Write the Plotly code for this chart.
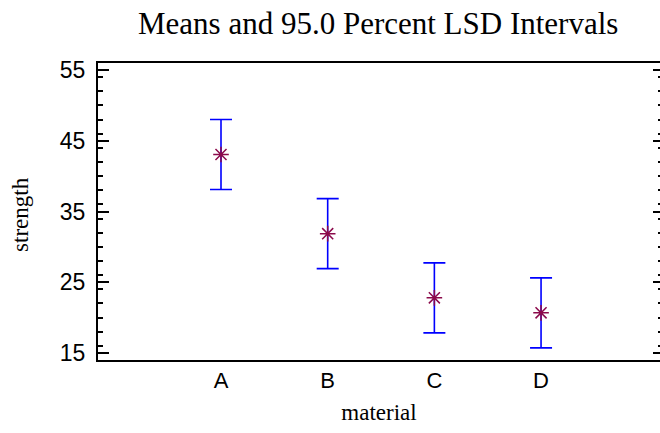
import plotly.graph_objects as go

materials = ["A", "B", "C", "D"]
means = [43.06, 31.87, 22.79, 20.67]
lsd_half = [4.95, 4.95, 4.95, 4.95]

fig = go.Figure()
fig.add_trace(go.Scatter(
    x=materials, y=means, mode="markers",
    marker=dict(symbol="asterisk-open", size=13, color="#8B0A4B",
                line=dict(color="#8B0A4B", width=1.5)),
    error_y=dict(type="data", array=lsd_half, visible=True,
                 color="#0000FF", thickness=1.6, width=11),
    showlegend=False, hoverinfo="skip",
))
# invisible trace for right-side ticks
fig.add_trace(go.Scatter(x=materials, y=means, yaxis="y2", mode="markers",
                         marker=dict(opacity=0), showlegend=False, hoverinfo="skip"))

serif = "Liberation Serif, Times New Roman, serif"
sans = "Liberation Sans, Arial, sans-serif"

fig.update_layout(
    width=660, height=433,
    margin=dict(l=98, r=0, t=63, b=73),
    paper_bgcolor="white", plot_bgcolor="white",
    title=dict(text="Means and 95.0 Percent LSD Intervals",
               x=0.573, xanchor="center", y=0.947, yanchor="middle",
               font=dict(family=serif, size=31, color="black")),
    xaxis=dict(
        type="category", range=[-1.153, 4.115],
        showline=True, linewidth=2, linecolor="black", mirror=True,
        ticks="", showgrid=False, zeroline=False,
        tickfont=dict(family=sans, size=22, color="black"),
        title=dict(text="material", standoff=11,
                   font=dict(family=serif, size=23, color="black")),
    ),
    yaxis=dict(
        range=[14, 56], tick0=15, dtick=10,
        showline=True, linewidth=2, linecolor="black",
        ticks="inside", ticklen=11, tickwidth=2, tickcolor="black",
        ticklabelstandoff=6,
        minor=dict(ticks="inside", ticklen=5, tickwidth=1.5, dtick=2, tickcolor="black", showgrid=False),
        showgrid=False, zeroline=False,
        tickfont=dict(family=sans, size=23, color="black"),
    ),
    yaxis2=dict(
        overlaying="y", side="right", range=[14, 56], tick0=15, dtick=10,
        ticks="inside", ticklen=7, tickwidth=2, tickcolor="black",
        minor=dict(ticks="inside", ticklen=2, tickwidth=1.5, dtick=2, tickcolor="black", showgrid=False),
        showticklabels=False, showline=False, showgrid=False, zeroline=False,
    ),
    annotations=[dict(
        text="strength", textangle=-90, showarrow=False,
        xref="paper", yref="paper", x=-0.138, y=0.49,
        xanchor="center", yanchor="middle",
        font=dict(family=serif, size=23, color="black"),
    )],
)

fig.write_html("out.html")
